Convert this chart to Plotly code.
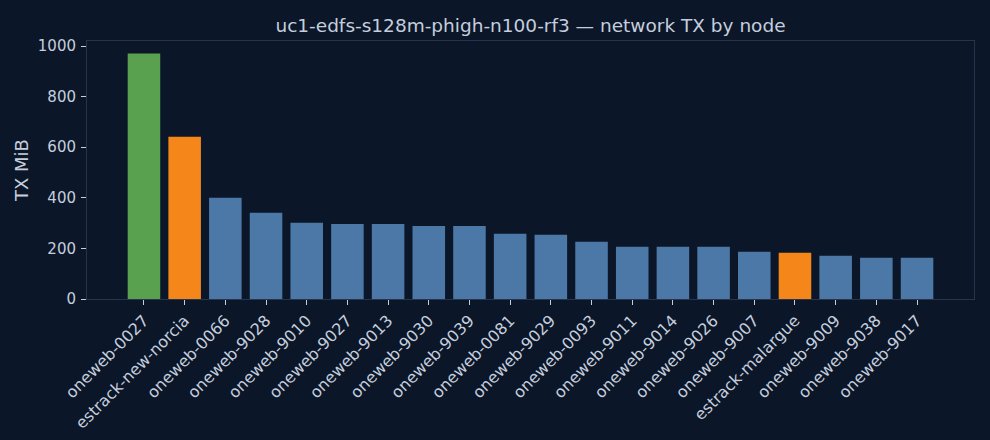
import plotly.graph_objects as go

# node names and TX volume (MiB), sorted descending
nodes = [
    "oneweb-0027", "estrack-new-norcia", "oneweb-0066", "oneweb-9028",
    "oneweb-9010", "oneweb-9027", "oneweb-9013", "oneweb-9030",
    "oneweb-9039", "oneweb-0081", "oneweb-9029", "oneweb-0093",
    "oneweb-9011", "oneweb-9014", "oneweb-9026", "oneweb-9007",
    "estrack-malargue", "oneweb-9009", "oneweb-9038", "oneweb-9017",
]
tx_mib = [
    971, 641, 400, 341, 301, 297, 297, 289, 289, 258,
    254, 226, 207, 207, 207, 187, 183, 171, 163, 163,
]
# role of each node: top talker, ground station, or ordinary satellite
roles = [
    "top", "ground", "sat", "sat", "sat", "sat", "sat", "sat", "sat", "sat",
    "sat", "sat", "sat", "sat", "sat", "sat", "ground", "sat", "sat", "sat",
]

BG = "#0b1628"
TEXT = "#c5cede"
SPINE = "#26344d"
ROLE_COLORS = {"top": "#59a14f", "ground": "#f5871a", "sat": "#4c78a8"}

fig = go.Figure(
    go.Bar(
        x=list(range(len(nodes))),
        y=tx_mib,
        width=0.8,
        marker=dict(color=[ROLE_COLORS[r] for r in roles], line_width=0),
        hovertext=nodes,
    )
)

fig.update_layout(
    width=990,
    height=440,
    paper_bgcolor=BG,
    plot_bgcolor=BG,
    font=dict(family="DejaVu Sans", color=TEXT, size=15),
    title=dict(
        text="uc1-edfs-s128m-phigh-n100-rf3 \u2014 network TX by node",
        xref="paper",
        x=0.5,
        xanchor="center",
        y=1 - 26 / 440,
        yanchor="middle",
        font=dict(size=18.5, color=TEXT),
    ),
    margin=dict(l=87, r=16, t=41, b=141),
    showlegend=False,
    bargap=0.2,
)

fig.update_xaxes(
    range=[-1.4, len(nodes) + 0.4],
    tickmode="array",
    tickvals=list(range(len(nodes))),
    ticktext=nodes,
    tickangle=-45,
    tickfont_size=16,
    ticks="outside",
    ticklen=5,
    tickcolor=TEXT,
    showgrid=False,
    zeroline=False,
    showline=True,
    linecolor=SPINE,
    mirror=True,
    automargin=False,
)
fig.update_yaxes(
    title=dict(text="TX MiB", standoff=4),
    range=[0, 1020],
    tickvals=[0, 200, 400, 600, 800, 1000],
    ticks="outside",
    ticklen=5,
    ticklabelstandoff=2,
    tickcolor=TEXT,
    showgrid=False,
    zeroline=False,
    showline=True,
    linecolor=SPINE,
    mirror=True,
    automargin=False,
)

fig.write_html(
    "out.html",
    config={"displayModeBar": False},
    post_script="document.body.style.margin='0';document.body.style.overflow='hidden';",
)
